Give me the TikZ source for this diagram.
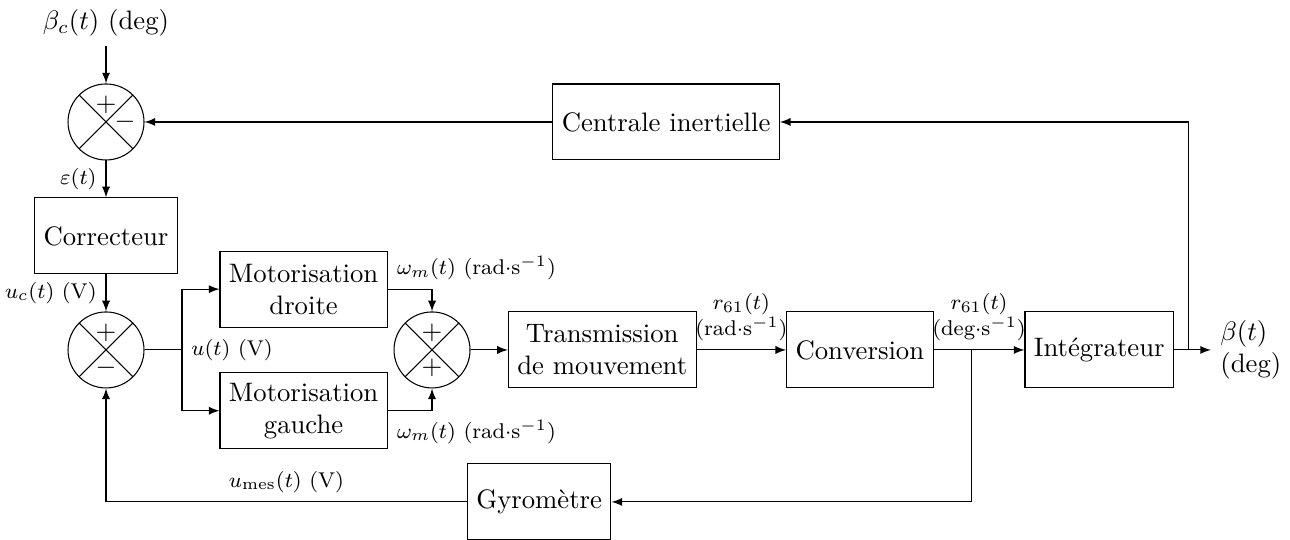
\documentclass[tikz,border=0pt]{standalone}

\begin{document}
\begin{tikzpicture}[>=latex,
  block/.style={draw, minimum height=1cm, align=center},
  sum/.style={draw, circle, minimum size=1cm, inner sep=0pt,
    path picture={\draw (path picture bounding box.north west) -- (path picture bounding box.south east)
      (path picture bounding box.north east) -- (path picture bounding box.south west);}},
  sig/.style={font=\footnotesize}]

  \useasboundingbox (-1.395,-5.5) rectangle (15.58,1.605);

  % Draw first comparator
  \node [sum] (S1) at (0,0) {};
  \node at ([yshift=0.23cm]S1.center) {$+$};
  \node at ([xshift=0.25cm]S1.center) {$-$};
  \node [above] (BC) at (0,1) {$\beta_c(t)$ (deg)};
  \draw [->] (BC) -- (S1);

  % Draw correcteur
  \node [block] (COR) at (0,-1.5) {Correcteur};
  \draw [->] (S1) -- (COR) node [sig, midway, left] {$\varepsilon(t)$};

  % Draw second comparator
  \node [sum] (S2) at (0,-3) {};
  \node at ([yshift=0.23cm]S2.center) {$+$};
  \node at ([yshift=-0.23cm]S2.center) {$-$};
  \draw [->] (COR) -- (S2) node [sig, midway, left] {$u_c(t)$ (V)};

  % Draw motorisations
  \coordinate (U) at (1,-3);
  \node [block] (MD) at (2.6,-2.2) {Motorisation\\droite};
  \node [block] (MG) at (2.6,-3.8) {Motorisation\\gauche};
  \draw (S2) -- (U) node [sig, right] {$u(t)$ (V)};
  \draw [->] (U) |- (MD);
  \draw [->] (U) |- (MG);

  % Draw summing point
  \node [sum] (S3) at (4.29,-3) {};
  \node at ([yshift=0.23cm]S3.center) {$+$};
  \node at ([yshift=-0.23cm]S3.center) {$+$};
  \draw [->] (MD) -| (S3) node [sig, pos=0, above right] {$\omega_m(t)$ (rad$\cdot$s$^{-1}$)};
  \draw [->] (MG) -| (S3) node [sig, pos=0, below right] {$\omega_m(t)$ (rad$\cdot$s$^{-1}$)};

  % Draw forward chain
  \node [block] (TR) at (6.53,-3) {Transmission\\de mouvement};
  \node [block] (CV) at (9.92,-3) {Conversion};
  \node [block] (IN) at (13.07,-3) {Intégrateur};
  \draw [->] (S3) -- (TR);
  \draw [->] (TR) -- (CV) node [sig, midway, above, align=center] {$r_{61}(t)$\\(rad$\cdot$s$^{-1}$)};
  \draw [->] (CV) -- (IN) node [sig, midway, above, align=center] {$r_{61}(t)$\\(deg$\cdot$s$^{-1}$)};

  % Draw output
  \coordinate (B) at (14.25,-3);
  \node [right, align=left] (BE) at (14.54,-3) {$\beta(t)$\\(deg)};
  \draw [->] (IN) -- (BE);

  % Draw centrale inertielle loop
  \node [block] (CI) at (7.37,0) {Centrale inertielle};
  \draw [->] (B) |- (CI);
  \draw [->] (CI) -- (S1);

  % Draw gyrometre loop
  \coordinate (R) at (11.39,-3);
  \node [block] (GY) at (5.70,-5) {Gyromètre};
  \draw [->] (R) |- (GY);
  \draw [->] (GY) -| (S2) node [sig, pos=0.25, above] {$u_{\mathrm{mes}}(t)$ (V)};

\end{tikzpicture}
\end{document}
